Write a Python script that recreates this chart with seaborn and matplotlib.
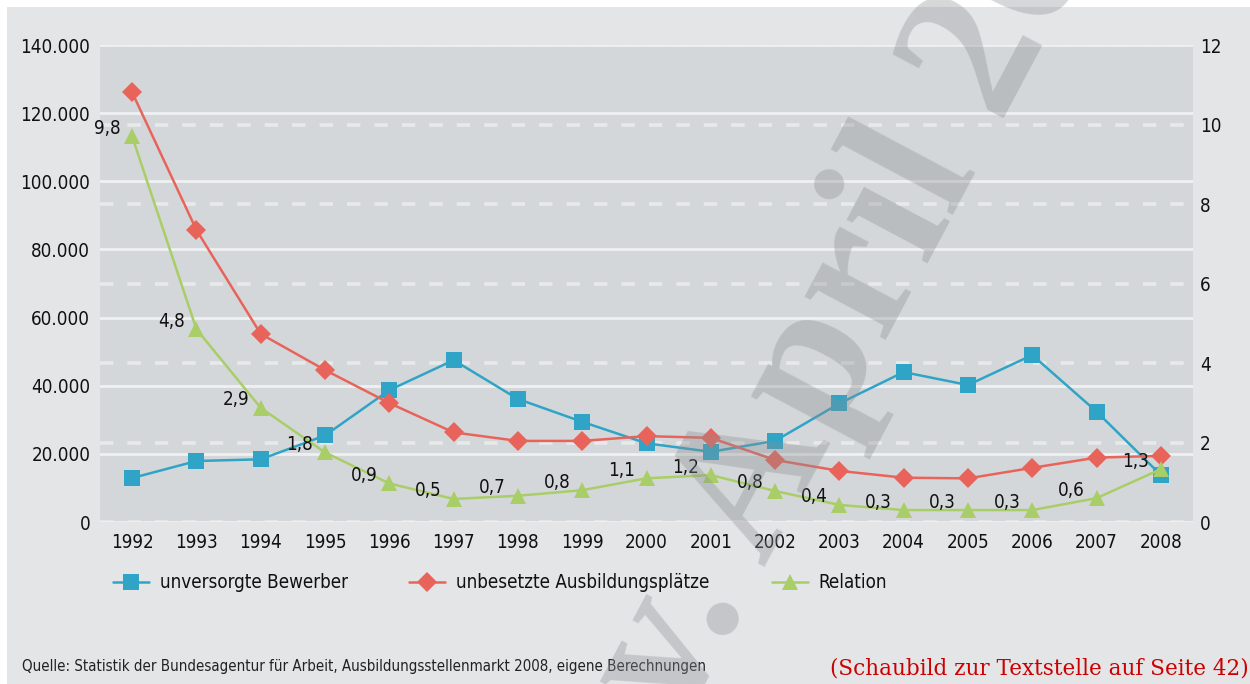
import numpy as np
import pandas as pd
import seaborn as sns
import matplotlib
matplotlib.use('Agg')
import matplotlib.pyplot as plt
from matplotlib.patches import Rectangle
from matplotlib.ticker import FuncFormatter, MultipleLocator

years = ['1992', '1993', '1994', '1995', '1996', '1997', '1998', '1999', '2000',
         '2001', '2002', '2003', '2004', '2005', '2006', '2007', '2008']

unversorgt = [12900, 17900, 18400, 25400, 38700, 47500, 36100, 29400, 23100,
              20600, 23800, 34800, 44000, 40200, 49000, 32400, 13800]

unbesetzt = [126100, 85700, 55200, 44600, 34900, 26300, 23800, 23800, 25200,
             24700, 18200, 15000, 13000, 12800, 15900, 18900, 19400]

relation = [9.7, 4.85, 2.87, 1.75, 0.97, 0.58, 0.66, 0.8, 1.1,
            1.18, 0.78, 0.43, 0.3, 0.3, 0.3, 0.6, 1.33]

relation_labels = ['9,8', '4,8', '2,9', '1,8', '0,9', '0,5', '0,7', '0,8', '1,1',
                   '1,2', '0,8', '0,4', '0,3', '0,3', '0,3', '0,6', '1,3']

series_names = ['unversorgte Bewerber', 'unbesetzte Ausbildungsplätze', 'Relation']

BLUE = '#2fa4c6'
RED = '#e8645b'
GREEN = '#a9cd67'
PLOT_BG = '#d4d7da'
OUTER_BG = '#e4e5e7'
TXT = '#111111'
FS = 13.5

sns.set_style('white')
plt.rcParams['font.family'] = ['DejaVu Sans']
plt.rcParams['font.stretch'] = 'condensed'

df = pd.DataFrame({
    'pos': np.arange(len(years)),
    'unversorgt': unversorgt,
    'unbesetzt': unbesetzt,
    'relation': relation,
})

fig = plt.figure(figsize=(12.5, 6.84), dpi=100, facecolor='white')
fig.patches.append(Rectangle((7 / 1250, 0), 1, 1 - 7 / 684, transform=fig.transFigure,
                             facecolor=OUTER_BG, edgecolor='none', zorder=-10))

rect = [100 / 1250, 1 - 522 / 684, 1093 / 1250, 477 / 684]
ax_grid = fig.add_axes(rect, zorder=0)      # right scale, dashed grid, background
ax = fig.add_axes(rect, zorder=1)           # left scale, blue + red
ax_rel = fig.add_axes(rect, zorder=2)       # right scale, green

ax_grid.set_facecolor(PLOT_BG)
for a in (ax, ax_rel):
    a.patch.set_visible(False)

for a in (ax_grid, ax, ax_rel):
    a.set_xlim(-0.5, len(years) - 0.5)
    for s in a.spines.values():
        s.set_visible(False)

ax.set_ylim(0, 140000)
ax_grid.set_ylim(0, 12)
ax_rel.set_ylim(0, 12)

# grids: solid for the left scale, dashed for the right scale
ax.yaxis.set_major_locator(MultipleLocator(20000))
ax.yaxis.set_major_formatter(FuncFormatter(lambda v, p: f'{int(v):,}'.replace(',', '.')))
ax.grid(axis='y', color='#eef0f1', linewidth=2.0)
ax.grid(axis='x', visible=False)
ax_grid.yaxis.set_major_locator(MultipleLocator(2))
ax_grid.grid(axis='y', color='#e8e9ea', linewidth=2.6, linestyle=(0, (3.7, 3.9)))
ax_grid.grid(axis='x', visible=False)

# lines
sns.lineplot(data=df, x='pos', y='unversorgt', ax=ax, color=BLUE, marker='s',
             markersize=11, markeredgewidth=0, linewidth=1.8, legend=False)
sns.lineplot(data=df, x='pos', y='unbesetzt', ax=ax, color=RED, marker='D',
             markersize=10, markeredgewidth=0, linewidth=1.8, legend=False)
sns.lineplot(data=df, x='pos', y='relation', ax=ax_rel, color=GREEN, marker='^',
             markersize=11.5, markeredgewidth=0, linewidth=1.8, legend=False)

for xi, yi, lab in zip(df['pos'], relation, relation_labels):
    ax_rel.annotate(lab, (xi, yi), xytext=(-8.5, 5.8), textcoords='offset points',
                    ha='right', va='center', fontsize=FS, color=TXT)

# ticks
ax.set_xticks(df['pos'])
ax.set_xticklabels(years)
ax.tick_params(axis='both', length=0, labelsize=FS, colors=TXT)
ax.tick_params(axis='x', pad=8)
ax.tick_params(axis='y', pad=7)
ax.set_xlabel('')
ax.set_ylabel('')

ax_grid.yaxis.tick_right()
ax_grid.tick_params(axis='y', length=0, labelsize=FS, colors=TXT, pad=5)
ax_grid.set_xticks([])
ax_rel.set_xticks([])
ax_rel.set_yticks([])
ax_rel.set_xlabel('')
ax_rel.set_ylabel('')

# no gridlines at the very top / bottom
for a in (ax, ax_grid):
    a.yaxis.get_gridlines()[0].set_visible(False)
    a.yaxis.get_gridlines()[-1].set_visible(False)

# legend: one entry per anchor so the items sit where the reference has them
handles = [ax.lines[0], ax.lines[1], ax_rel.lines[0]]
for h, name, x0 in zip(handles, series_names, [113, 409, 772]):
    fig.legend([h], [name], loc='center left', bbox_to_anchor=(x0 / 1250, 1 - 583 / 684),
               frameon=False, fontsize=FS, borderpad=0, borderaxespad=0,
               handlelength=1.9, handletextpad=0.6, labelcolor=TXT)

# footer
fig.text(22 / 1250, 1 - 667 / 684,
         'Quelle: Statistik der Bundesagentur für Arbeit, Ausbildungsstellenmarkt 2008, eigene Berechnungen',
         fontsize=10.8, color='#222222', ha='left', va='center')
fig.text(0.999, 1 - 669 / 684, '(Schaubild zur Textstelle auf Seite 42)',
         fontsize=15.5, color='#cc0000', ha='right', va='center',
         family='DejaVu Serif', stretch='normal')

# watermark
fig.text(682 / 1250, 1 - 724 / 684, 'v. April 2009', fontsize=143, family='Liberation Serif',
         stretch='normal', weight='bold', color='#8a8d90', alpha=0.35, rotation=62,
         rotation_mode='anchor', ha='left', va='baseline', zorder=20)

fig.savefig('out.png', dpi=100, facecolor='white')
